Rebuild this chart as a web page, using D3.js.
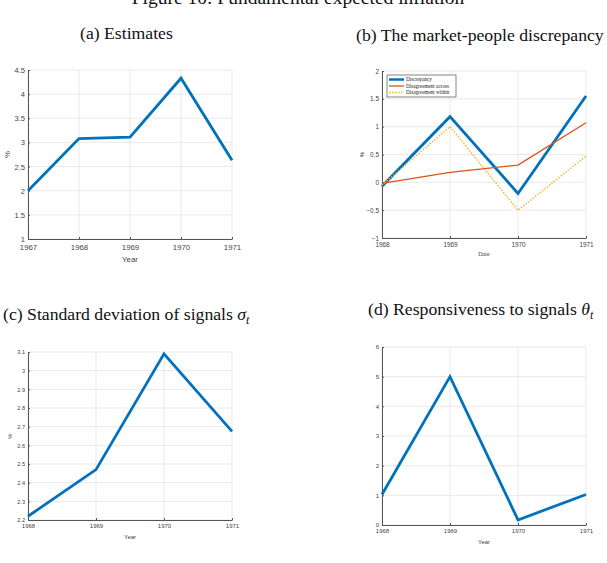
<!DOCTYPE html>
<html>
<head>
<meta charset="utf-8">
<script src="https://cdn.jsdelivr.net/npm/d3@7"></script>
<style>
  body { margin: 0; background: #fff; }
  svg { display: block; }
  .grid line { stroke: #e3e3e3; stroke-width: 0.8; }
  .axis path, .axis line { stroke: #555; }
  .axis text { fill: #444; font-family: "Liberation Sans", Arial, sans-serif; }
  .title { font-family: "Liberation Serif", "DejaVu Serif", serif; fill: #111; }
</style>
</head>
<body>
<div id="chart"></div>
<script>
// data
const yearsA = [1967, 1968, 1969, 1970, 1971];
const estimates = [2.0, 3.08, 3.11, 4.33, 2.63];

const yearsB = [1968, 1969, 1970, 1971];
const discrepancy = [-0.07, 1.18, -0.2, 1.55];
const disagreementAcross = [-0.02, 0.18, 0.31, 1.07];
const disagreementWithin = [-0.05, 1.0, -0.5, 0.47];

const sigmaT = [2.22, 2.47, 3.09, 2.675];
const thetaT = [1.03, 5.0, 0.17, 1.03];

// tick values
const yTicksA = [1, 1.5, 2, 2.5, 3, 3.5, 4, 4.5];
const yTicksB = [-1, -0.5, 0, 0.5, 1, 1.5, 2];
const yTicksC = [2.2, 2.3, 2.4, 2.5, 2.6, 2.7, 2.8, 2.9, 3, 3.1];
const yTicksD = [0, 1, 2, 3, 4, 5, 6];

const seriesNames = ['Discrepancy', 'Disagreement across', 'Disagreement within'];

const width = 607, height = 563;
const svg = d3.select('#chart').append('svg')
              .attr('width', width)
              .attr('height', height);

// figure title (cut off at the top in the reference)
svg.append('text')
   .attr('class', 'title')
   .attr('x', 298)
   .attr('y', 4)
   .attr('text-anchor', 'middle')
   .style('font-size', '19.5px')
   .text('Figure 10: Fundamental expected inflation');

function drawPanel(p) {
  const x = d3.scaleLinear().domain(p.xDomain).range([p.left, p.right]);
  const y = d3.scaleLinear().domain(p.yDomain).range([p.bottom, p.top]);
  const g = svg.append('g');

  // grid
  const grid = g.append('g').attr('class', 'grid');
  grid.selectAll('.gx')
      .data(p.xTicks)
      .join('line')
      .attr('x1', d => x(d)).attr('x2', d => x(d))
      .attr('y1', p.top).attr('y2', p.bottom);
  grid.selectAll('.gy')
      .data(p.yTicks)
      .join('line')
      .attr('class', 'gy')
      .attr('x1', p.left).attr('x2', p.right)
      .attr('y1', d => y(d)).attr('y2', d => y(d));

  // axes, ticks pointing inward like matlab
  g.append('g')
   .attr('class', 'axis')
   .attr('transform', `translate(0, ${p.bottom})`)
   .call(d3.axisBottom(x).tickValues(p.xTicks).tickFormat(d3.format('d'))
           .tickSizeInner(-2).tickSizeOuter(0).tickPadding(p.xPad))
   .call(a => a.selectAll('text').style('font-size', p.tickFont + 'px'))
   .call(a => a.select('.domain').attr('stroke-width', 1));

  g.append('g')
   .attr('class', 'axis')
   .attr('transform', `translate(${p.left}, 0)`)
   .call(d3.axisLeft(y).tickValues(p.yTicks).tickFormat(d3.format('~g'))
           .tickSizeInner(-2).tickSizeOuter(0).tickPadding(3))
   .call(a => a.selectAll('text').style('font-size', p.yTickFont + 'px'))
   .call(a => a.select('.domain').attr('stroke-width', 1));

  // axis labels
  svg.append('text')
     .attr('x', (p.left + p.right) / 2)
     .attr('y', p.xLabelY)
     .attr('text-anchor', 'middle')
     .style('font-family', p.xLabelSerif ? '"Liberation Serif", serif' : '"Liberation Sans", sans-serif')
     .style('font-size', p.labelFont + 'px')
     .style('fill', '#444')
     .text(p.xLabel);

  if (p.yLabel) {
    svg.append('text')
       .attr('transform', `translate(${p.yLabelX}, ${(p.top + p.bottom) / 2}) rotate(-90)`)
       .attr('text-anchor', 'middle')
       .style('font-family', '"Liberation Sans", sans-serif')
       .style('font-size', p.labelFont + 'px')
       .style('fill', '#444')
       .text(p.yLabel);
  }

  // lines
  p.series.forEach(s => {
    const line = d3.line()
                   .x((d, i) => x(p.xValues[i]))
                   .y(d => y(d));
    g.append('path')
     .datum(s.values)
     .attr('fill', 'none')
     .attr('stroke', s.color)
     .attr('stroke-width', s.width)
     .attr('stroke-dasharray', s.dash || null)
     .attr('stroke-linejoin', 'miter')
     .attr('d', line);
  });

  // panel title
  const t = svg.append('text')
     .attr('class', 'title')
     .attr('x', p.titleX)
     .attr('y', p.titleY)
     .style('font-size', '17.7px')
     .text(p.title);
  if (p.titleSymbol) {
    t.append('tspan').style('font-style', 'italic').text(' ' + p.titleSymbol);
    t.append('tspan').style('font-style', 'italic').style('font-size', '12px')
     .attr('dy', 4).text('t');
  }
  return {x, y, g};
}

const blue = '#0072BD', orange = '#D95319', yellow = '#EDB120';

drawPanel({
  left: 28, right: 232, top: 70, bottom: 239,
  xDomain: [1967, 1971], yDomain: [1, 4.5],
  xTicks: yearsA, yTicks: yTicksA, xValues: yearsA,
  tickFont: 7.8, yTickFont: 7.6, labelFont: 7.8, xPad: 5.5,
  xLabel: 'Year', xLabelY: 262, yLabel: '%', yLabelX: 10,
  title: '(a) Estimates', titleX: 80, titleY: 39,
  series: [{values: estimates, color: blue, width: 2.8}]
});

drawPanel({
  left: 382, right: 586, top: 71, bottom: 238,
  xDomain: [1968, 1971], yDomain: [-1, 2],
  xTicks: yearsB, yTicks: yTicksB, xValues: yearsB,
  tickFont: 6.4, yTickFont: 6.4, labelFont: 6.2, xLabelSerif: true, xPad: 4,
  xLabel: 'Date', xLabelY: 256, yLabel: '%', yLabelX: 364,
  title: '(b) The market-people discrepancy', titleX: 356, titleY: 41,
  series: [
    {values: discrepancy, color: blue, width: 2.8},
    {values: disagreementAcross, color: orange, width: 1.3},
    {values: disagreementWithin, color: yellow, width: 1.3, dash: '1.5,1.5'}
  ]
});

// legend for panel (b)
const legend = svg.append('g').attr('transform', 'translate(387, 75)');
legend.append('rect')
      .attr('width', 69).attr('height', 22)
      .attr('fill', '#fff').attr('stroke', '#333').attr('stroke-width', 0.6);
const legendStyles = [
  {color: blue, width: 2.5},
  {color: orange, width: 1.3},
  {color: yellow, width: 1.3, dash: '1.5,1.5'}
];
seriesNames.forEach((name, i) => {
  const yy = 4.5 + i * 6.5;
  legend.append('line')
        .attr('x1', 2).attr('x2', 17)
        .attr('y1', yy).attr('y2', yy)
        .attr('stroke', legendStyles[i].color)
        .attr('stroke-width', legendStyles[i].width)
        .attr('stroke-dasharray', legendStyles[i].dash || null);
  legend.append('text')
        .attr('x', 19).attr('y', yy + 1.7)
        .style('font-family', '"Liberation Serif", serif')
        .style('font-size', '5.2px')
        .style('fill', '#222')
        .text(name);
});

drawPanel({
  left: 28, right: 232, top: 352, bottom: 520,
  xDomain: [1968, 1971], yDomain: [2.2, 3.1],
  xTicks: yearsB, yTicks: yTicksC, xValues: yearsB,
  tickFont: 6, yTickFont: 5.6, labelFont: 6, xPad: 3.6,
  xLabel: 'Year', xLabelY: 539, yLabel: '%', yLabelX: 12,
  title: '(c) Standard deviation of signals', titleSymbol: 'σ', titleX: 3, titleY: 320,
  series: [{values: sigmaT, color: blue, width: 2.8}]
});

drawPanel({
  left: 382, right: 586, top: 347, bottom: 525,
  xDomain: [1968, 1971], yDomain: [0, 6],
  xTicks: yearsB, yTicks: yTicksD, xValues: yearsB,
  tickFont: 6, yTickFont: 6, labelFont: 6, xPad: 3.6,
  xLabel: 'Year', xLabelY: 544, yLabel: null,
  title: '(d) Responsiveness to signals', titleSymbol: 'θ', titleX: 368, titleY: 315,
  series: [{values: thetaT, color: blue, width: 2.8}]
});
</script>
</body>
</html>
